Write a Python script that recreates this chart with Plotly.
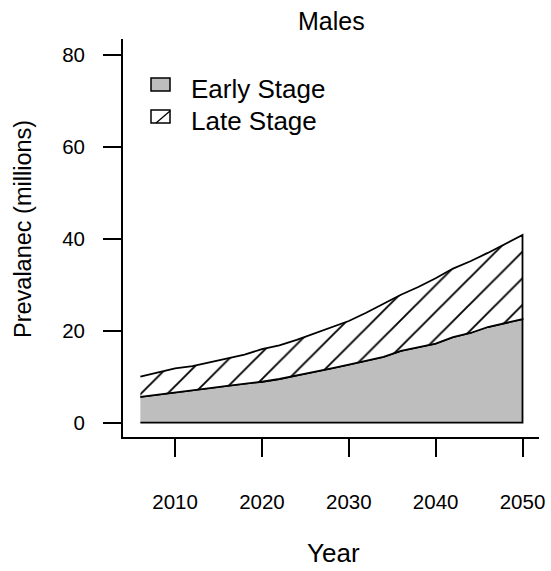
import plotly.graph_objects as go

# ---- data ----
years = [2006, 2008, 2010, 2012, 2014, 2016, 2018, 2020, 2022, 2024, 2026, 2028,
         2030, 2032, 2034, 2036, 2038, 2040, 2042, 2044, 2046, 2048, 2050]
early_stage = [5.6, 6.1, 6.6, 7.0, 7.5, 8.0, 8.5, 8.9, 9.5, 10.3, 11.0, 11.8,
               12.6, 13.4, 14.3, 15.6, 16.4, 17.2, 18.6, 19.5, 20.8, 21.7, 22.5]
late_stage = [4.4, 4.8, 5.2, 5.3, 5.6, 6.0, 6.3, 7.1, 7.3, 7.7, 8.4, 9.0,
              9.5, 10.5, 11.5, 12.2, 13.1, 14.2, 14.9, 15.6, 16.1, 17.1, 18.3]
x_ticks = [2010, 2020, 2030, 2040, 2050]
y_ticks = [0, 20, 40, 60, 80]
series_names = ["Early Stage", "Late Stage"]
title_text = "Males"
x_title = "Year"
y_title = "Prevalanec (millions)"

total = [e + l for e, l in zip(early_stage, late_stage)]

FONT = "Liberation Sans, Arial, Helvetica, sans-serif"
W, H = 551, 571
L, R, T, B = 123, 12, 39, 134
PW, PH = W - L - R, H - T - B


def px_x(p):
    return (p - L) / PW


def px_y(p):
    return (H - B - p) / PH


fig = go.Figure()

# Early stage polygon (grey)
fig.add_trace(go.Scatter(
    x=years + years[::-1],
    y=early_stage + [0] * len(years),
    fill="toself", fillcolor="#BEBEBE",
    line=dict(color="black", width=1.8),
    mode="lines", hoverinfo="skip", showlegend=False,
))

# Late stage polygon (hatched)
fig.add_trace(go.Scatter(
    x=years + years[::-1],
    y=total + early_stage[::-1],
    fill="toself", fillcolor="white",
    fillpattern=dict(shape="/", size=18.82, solidity=0.1, fgopacity=1,
                     fgcolor="#000000", bgcolor="white", fillmode="replace"),
    line=dict(color="black", width=1.8),
    mode="lines", hoverinfo="skip", showlegend=False,
))

shapes = []
annotations = []

# manual legend
box_x0, box_x1 = 151, 170
boxes = [(78, 91), (110, 123)]
text_y = [89, 121]
for i, (y0, y1) in enumerate(boxes):
    shapes.append(dict(type="rect", xref="paper", yref="paper",
                       x0=px_x(box_x0), x1=px_x(box_x1),
                       y0=px_y(y1), y1=px_y(y0),
                       fillcolor="#BEBEBE" if i == 0 else "white",
                       line=dict(color="black", width=1.5)))
    annotations.append(dict(text=series_names[i], xref="paper", yref="paper",
                            x=px_x(189), y=px_y(text_y[i]),
                            xanchor="left", yanchor="middle", showarrow=False,
                            font=dict(family=FONT, size=26, color="black")))
# hatch line inside late-stage legend box
y0, y1 = boxes[1]
shapes.append(dict(type="line", xref="paper", yref="paper",
                   x0=px_x(box_x0 + 5), y0=px_y(y1),
                   x1=px_x(box_x1), y1=px_y(y0 + 1),
                   line=dict(color="black", width=1.3)))

# titles
annotations.append(dict(text=title_text, xref="paper", yref="paper",
                        x=px_x(331), y=px_y(21), xanchor="center", yanchor="middle",
                        showarrow=False, font=dict(family=FONT, size=25, color="black")))
annotations.append(dict(text=x_title, xref="paper", yref="paper",
                        x=px_x(333), y=px_y(553), xanchor="center", yanchor="middle",
                        showarrow=False, font=dict(family=FONT, size=26, color="black")))
annotations.append(dict(text=y_title, xref="paper", yref="paper",
                        x=px_x(23), y=px_y(229), xanchor="center", yanchor="middle",
                        textangle=-90, showarrow=False,
                        font=dict(family=FONT, size=23.5, color="black")))

fig.update_layout(
    width=W, height=H, autosize=False,
    margin=dict(l=L, r=R, t=T, b=B, pad=0, autoexpand=False),
    paper_bgcolor="white", plot_bgcolor="white",
    showlegend=False,
    shapes=shapes, annotations=annotations,
    xaxis=dict(range=[2004.0, 2051.9], tickvals=x_ticks, ticks="outside",
               ticklen=18, tickwidth=1.8, tickcolor="black", automargin=False,
               showline=True, linecolor="black", linewidth=1.8,
               showgrid=False, zeroline=False, ticklabelstandoff=27,
               tickfont=dict(family=FONT, size=20.5, color="black")),
    yaxis=dict(range=[-3.11, 83.4], tickvals=y_ticks, ticks="outside",
               ticklen=18, tickwidth=1.8, tickcolor="black", automargin=False,
               showline=True, linecolor="black", linewidth=1.8,
               showgrid=False, zeroline=False, ticklabelstandoff=14,
               tickfont=dict(family=FONT, size=20.5, color="black")),
)

fig.write_html("out.html", config={"displayModeBar": False, "responsive": False},
               post_script="document.body.style.margin='0';document.body.style.overflow='hidden';")
